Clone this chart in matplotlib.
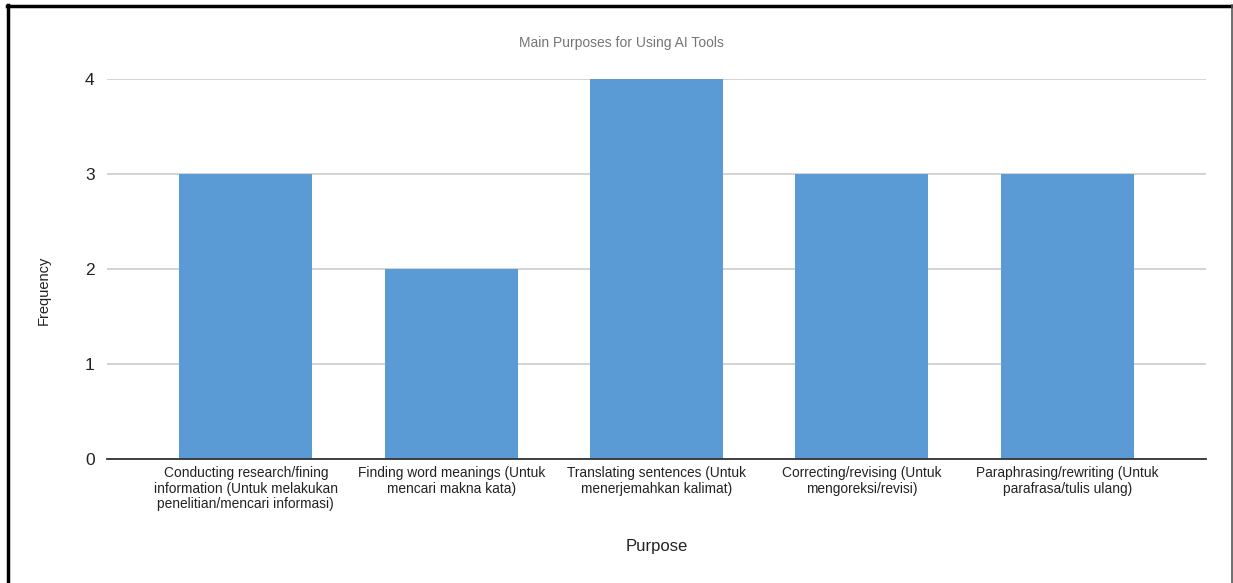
import matplotlib
matplotlib.use("Agg")
import matplotlib.pyplot as plt
from matplotlib.lines import Line2D

categories = [
    "Conducting research/fining\ninformation (Untuk melakukan\npenelitian/mencari informasi)",
    "Finding word meanings (Untuk\nmencari makna kata)",
    "Translating sentences (Untuk\nmenerjemahkan kalimat)",
    "Correcting/revising (Untuk\nmengoreksi/revisi)",
    "Paraphrasing/rewriting (Untuk\nparafrasa/tulis ulang)",
]
frequency = [3, 2, 4, 3, 3]
y_ticks = [0, 1, 2, 3, 4]

plt.rcParams['font.family'] = ['Liberation Sans', 'DejaVu Sans']

W, H = 1233, 583
fig = plt.figure(figsize=(W / 100, H / 100), dpi=100)
ax = fig.add_axes([107 / W, 1 - 459 / H, (1206 - 107) / W, (459 - 79) / H])

x = list(range(len(categories)))
ax.bar(x, frequency, width=0.647, color="#5B9BD5", zorder=3)
ax.set_xlim(-0.676, len(categories) - 1 + 0.676)
ax.set_ylim(0, 4)
ax.set_yticks(y_ticks)
ax.set_yticklabels([str(v) for v in y_ticks])
ax.set_xticks(x)
ax.set_xticklabels(categories, fontsize=9.9, linespacing=1.15, color="#222222")
ax.tick_params(axis="y", length=0, pad=9, labelsize=12.5, labelcolor="#222222")
ax.tick_params(axis="x", length=0, pad=5)
ax.grid(axis="y", color="#cccccc", linewidth=1.2, zorder=0)
for s in ["top", "right", "left"]:
    ax.spines[s].set_visible(False)
ax.spines["bottom"].set_color("#333333")
ax.spines["bottom"].set_linewidth(1.3)
ax.spines["bottom"].set_zorder(4)

fig.text(621 / W, 1 - 43 / H, "Main Purposes for Using AI Tools", ha="center", va="center",
         fontsize=10, color="#757575")
fig.text(44 / W, 1 - 290 / H, "Frequency", ha="center", va="center", rotation=90,
         fontsize=10.5, color="#222222")
fig.text(657 / W, 1 - 547 / H, "Purpose", ha="center", va="center",
         fontsize=12, color="#222222")

# frame border
fig.add_artist(Line2D([8 / W, 8 / W], [0, 1 - 5 / H], color="black", linewidth=2.5,
                      transform=fig.transFigure))
fig.add_artist(Line2D([7 / W, 1], [1 - 5.5 / H, 1 - 5.5 / H], color="black", linewidth=2.5,
                      transform=fig.transFigure))
fig.add_artist(Line2D([1232 / W, 1232 / W], [0, 1 - 5 / H], color="#555555", linewidth=1.2,
                      transform=fig.transFigure))

fig.savefig("out.png", dpi=100)
